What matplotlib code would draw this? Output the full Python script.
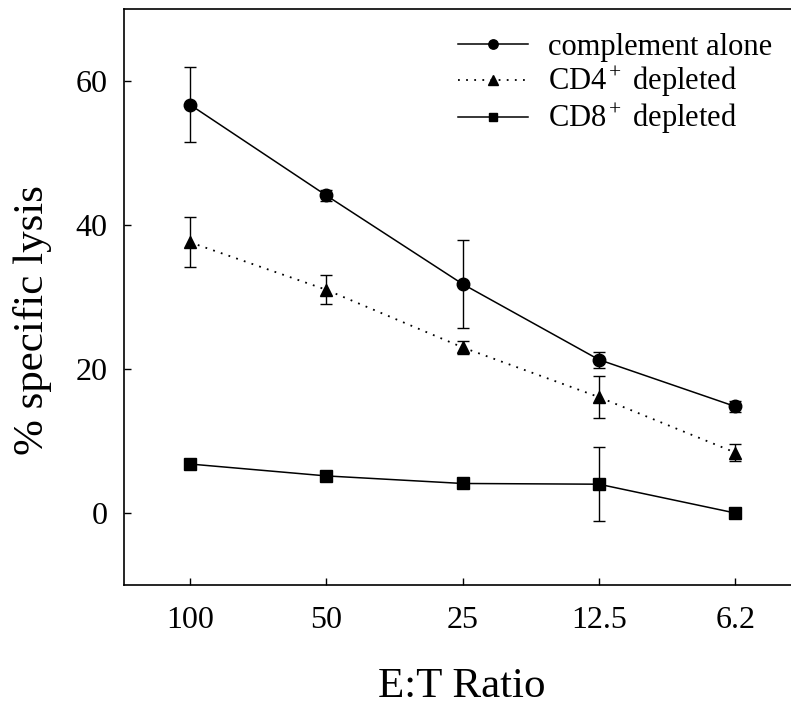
import numpy as np
import matplotlib.pyplot as plt

plt.rcParams['font.family'] = ['Liberation Serif', 'DejaVu Serif']
plt.rcParams['mathtext.fontset'] = 'custom'
plt.rcParams['mathtext.rm'] = 'Liberation Serif'
plt.rcParams['mathtext.it'] = 'Liberation Serif:italic'

# data
ratios = ['100', '50', '25', '12.5', '6.2']
complement = [56.7, 44.1, 31.8, 21.3, 14.8]
complement_err = [5.2, 0.7, 6.1, 1.1, 0.8]
cd4 = [37.6, 31.0, 23.0, 16.1, 8.4]
cd4_err = [3.5, 2.0, 0.9, 2.9, 1.2]
cd8 = [6.8, 5.15, 4.1, 4.0, 0.0]
cd8_err = [0, 0, 0, 5.1, 0]

x = np.arange(len(ratios))

fig = plt.figure(figsize=(7.91, 7.09), dpi=100)
ax = fig.add_axes([0.1568, 0.1749, 0.8432, 0.8124])

ax.errorbar(x, complement, yerr=complement_err, fmt='none', ecolor='black',
            elinewidth=1, capsize=4, capthick=1)
ax.errorbar(x, cd4, yerr=cd4_err, fmt='none', ecolor='black',
            elinewidth=1, capsize=4, capthick=1)
ax.errorbar(x[3:4], cd8[3:4], yerr=cd8_err[3:4], fmt='none', ecolor='black',
            elinewidth=1, capsize=4, capthick=1)

ax.plot(x, complement, '-', color='black', lw=1.1, marker='o', ms=9,
        label='complement alone')
ax.plot(x, cd4, color='black', lw=1.3, ls=(0, (1, 3.5)), marker='^', ms=9,
        label='CD4$^+$ depleted')
ax.plot(x, cd8, '-', color='black', lw=1.1, marker='s', ms=8,
        label='CD8$^+$ depleted')

ax.set_xlim(-0.485, 4.41)
ax.set_ylim(-10, 70)
ax.set_xticks(x)
ax.set_xticklabels(ratios)
ax.set_yticks([0, 20, 40, 60])
ax.tick_params(direction='in', length=5, width=1, labelsize=23)
ax.tick_params(axis='x', pad=15)
ax.tick_params(axis='y', pad=12)
ax.spines['right'].set_visible(False)
for s in ['left', 'bottom', 'top']:
    ax.spines[s].set_linewidth(1.2)

ax.set_xlabel('E:T Ratio', fontsize=31)
ax.xaxis.set_label_coords(0.507, -0.144)
ax.set_ylabel('% specific lysis', fontsize=31)
ax.yaxis.set_label_coords(-0.108, 0.46)

leg = ax.legend(loc='upper right', bbox_to_anchor=(1.013, 1.006), frameon=False,
                fontsize=22, handlelength=2.3, handletextpad=0.65,
                labelspacing=0.1, markerscale=0.75)

fig.savefig('out.png', dpi=100)
